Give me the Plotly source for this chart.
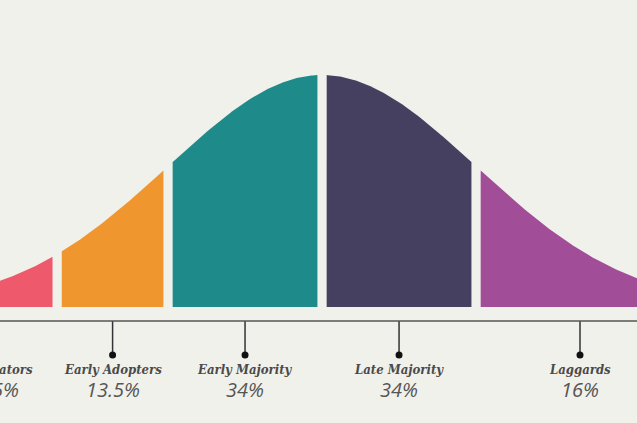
import numpy as np
import plotly.graph_objects as go

# ---- data ----
categories = ["Innovators", "Early Adopters", "Early Majority", "Late Majority", "Laggards"]
percent_labels = ["2.5%", "13.5%", "34%", "34%", "16%"]
# segment boundaries along the bell curve, in standard deviations from the mean
seg_left = [-2.5, -1.72, -1.0, 0.0, 1.0]
seg_right = [-1.72, -1.0, 0.0, 1.0, 2.35]
colors = ["#EE5A6B", "#F0962F", "#1E8A89", "#45405F", "#A24D97"]

GAP = 0.03  # half gap between segments (sd units)
BG = "#F1F1EC"
TEXT = "#4A4A4A"
XMIN, XMAX = -2.091, 2.045

def bell(z):
    return np.exp(-z ** 2 / 2)

fig = go.Figure()

for name, a, b, c in zip(categories, seg_left, seg_right, colors):
    lo = a + GAP if a > -2.4 else a
    hi = b - GAP if b < 2.3 else b
    zs = np.linspace(lo, hi, 120)
    xs = np.concatenate([[lo], zs, [hi]])
    ys = np.concatenate([[0], bell(zs), [0]])
    fig.add_trace(go.Scatter(x=xs, y=ys, fill="toself", fillcolor=c,
                             line=dict(width=0, color=c), mode="lines",
                             hoverinfo="skip", showlegend=False, name=name))

AXIS_Y = -0.0603
DOT_Y = -0.207
NAME_Y = -0.268
PCT_Y = -0.355

# baseline axis
fig.add_shape(type="line", xref="paper", yref="y", x0=0, x1=1, y0=AXIS_Y, y1=AXIS_Y,
              line=dict(color="#555555", width=1.5))

mids = [(a + b) / 2 for a, b in zip(seg_left, seg_right)]
for m, name, p in zip(mids, categories, percent_labels):
    fig.add_trace(go.Scatter(x=[m, m], y=[AXIS_Y, DOT_Y], mode="lines",
                             line=dict(color="#333333", width=1.5),
                             hoverinfo="skip", showlegend=False, cliponaxis=False))
    fig.add_trace(go.Scatter(x=[m], y=[DOT_Y], mode="markers",
                             marker=dict(color="#111111", size=7),
                             hoverinfo="skip", showlegend=False, cliponaxis=False))
    px = (m - XMIN) / (XMAX - XMIN)
    fig.add_annotation(x=px, xref="paper", xanchor="center", y=NAME_Y, yref="y",
                       text=name, showarrow=False,
                       font=dict(family="DejaVu Serif Condensed, DejaVu Serif", size=13,
                                 color=TEXT, weight="bold", style="italic"))
    fig.add_annotation(x=px, xref="paper", xanchor="center", y=PCT_Y, yref="y",
                       text=p, showarrow=False,
                       font=dict(family="Open Sans", size=20, color="#555555",
                                 style="italic"))

fig.update_layout(
    width=637, height=423,
    margin=dict(l=0, r=0, t=0, b=0),
    paper_bgcolor=BG, plot_bgcolor=BG,
    xaxis=dict(range=[XMIN, XMAX], visible=False, fixedrange=True),
    yaxis=dict(range=[-0.5, 1.3233], visible=False, fixedrange=True),
)

fig.write_html("out.html", config={"displayModeBar": False},
               post_script="document.body.style.margin='0';document.body.style.overflow='hidden';")
